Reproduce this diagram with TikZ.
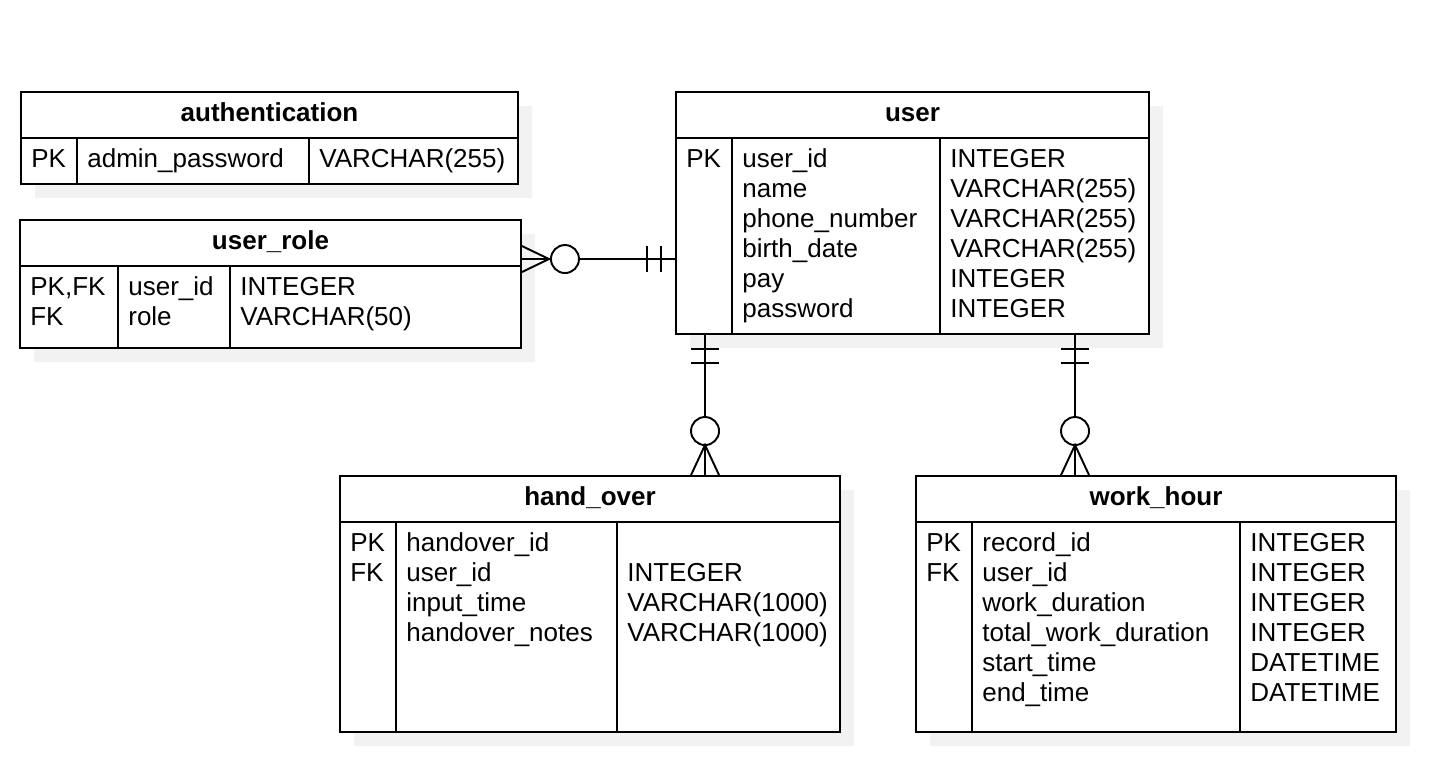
\documentclass[tikz,border=0pt]{standalone}
\usepackage{fontspec}
\setmainfont{Liberation Sans}
\usetikzlibrary{fit,calc}
\tikzset{
  tbl/.style={draw, fill=white, line width=1.1pt, inner sep=0pt},
  shade/.style={fill=black!5, draw=none},
  cell/.style={anchor=base west, inner sep=0pt, font=\fontsize{14.8}{17}\selectfont},
  ttl/.style={anchor=base, inner sep=0pt, font=\fontsize{14.8}{17}\selectfont\bfseries},
  rel/.style={line width=1.1pt},
  ring/.style={line width=1.1pt, fill=white},
}
\begin{document}
\begin{tikzpicture}[x=0.02cm, y=-0.02cm]
  \useasboundingbox (0,0) rectangle (1438,778);

  % shadows
  \fill[shade] (35,106) rectangle (532,198);
  \fill[shade] (34,234) rectangle (535,362);
  \fill[shade] (690,106) rectangle (1163,348);
  \fill[shade] (354,490) rectangle (854,746);
  \fill[shade] (930,490) rectangle (1410,746);

  % authentication
  \node[tbl, fit={(21,92) (518,184)}] (authentication) {};
  \draw[rel] (21,138) -- (518,138);
  \draw[rel] (77,138) -- (77,184);
  \draw[rel] (309,138) -- (309,184);
  \node[ttl] (auth-title) at (269.5,121) {authentication};
  \node[cell] (auth-k) at (31,167) {PK};
  \node[cell] (auth-n) at (87,167) {admin\_password};
  \node[cell] (auth-t) at (319,167) {VARCHAR(255)};

  % user_role
  \node[tbl, fit={(20,220) (521,348)}] (user_role) {};
  \draw[rel] (20,266) -- (521,266);
  \draw[rel] (118,266) -- (118,348);
  \draw[rel] (230,266) -- (230,348);
  \node[ttl] (role-title) at (270.5,249) {user\_role};
  \foreach \k/\n/\t [count=\i from 0] in {PK{,}FK/user\_id/INTEGER, FK/role/VARCHAR(50)} {
    \node[cell] (role-k\i) at (30,295+30*\i) {\k};
    \node[cell] (role-n\i) at (128,295+30*\i) {\n};
    \node[cell] (role-t\i) at (240,295+30*\i) {\t};
  }

  % user
  \node[tbl, fit={(676,92) (1149,334)}] (user) {};
  \draw[rel] (676,138) -- (1149,138);
  \draw[rel] (732,138) -- (732,334);
  \draw[rel] (940,138) -- (940,334);
  \node[ttl] (user-title) at (912.5,121) {user};
  \node[cell] (user-k0) at (686,167) {PK};
  \foreach \n/\t [count=\i from 0] in {user\_id/INTEGER, name/VARCHAR(255),
      phone\_number/VARCHAR(255), birth\_date/VARCHAR(255), pay/INTEGER, password/INTEGER} {
    \node[cell] (user-n\i) at (742,167+30*\i) {\n};
    \node[cell] (user-t\i) at (950,167+30*\i) {\t};
  }

  % hand_over
  \node[tbl, fit={(340,476) (840,732)}] (hand_over) {};
  \draw[rel] (340,522) -- (840,522);
  \draw[rel] (396,522) -- (396,732);
  \draw[rel] (617,522) -- (617,732);
  \node[ttl] (hand-title) at (590,505) {hand\_over};
  \node[cell] (hand-k0) at (350,551) {PK};
  \node[cell] (hand-k1) at (350,581) {FK};
  \node[cell] (hand-n0) at (406,551) {handover\_id};
  \foreach \n/\t [count=\i from 1] in {user\_id/INTEGER, input\_time/VARCHAR(1000),
      handover\_notes/VARCHAR(1000)} {
    \node[cell] (hand-n\i) at (406,551+30*\i) {\n};
    \node[cell] (hand-t\i) at (627,551+30*\i) {\t};
  }

  % work_hour
  \node[tbl, fit={(916,476) (1396,732)}] (work_hour) {};
  \draw[rel] (916,522) -- (1396,522);
  \draw[rel] (972,522) -- (972,732);
  \draw[rel] (1240,522) -- (1240,732);
  \node[ttl] (work-title) at (1156,505) {work\_hour};
  \node[cell] (work-k0) at (926,551) {PK};
  \node[cell] (work-k1) at (926,581) {FK};
  \foreach \n/\t [count=\i from 0] in {record\_id/INTEGER, user\_id/INTEGER,
      work\_duration/INTEGER, total\_work\_duration/INTEGER,
      start\_time/DATETIME, end\_time/DATETIME} {
    \node[cell] (work-n\i) at (982,551+30*\i) {\n};
    \node[cell] (work-t\i) at (1250,551+30*\i) {\t};
  }

  % user_role -- user
  \coordinate (ru-a) at ($(user_role.north east)+(0,40)$);
  \coordinate (ru-b) at ($(user.north west)+(0,168)$);
  \draw[rel] (ru-a) -- (ru-b);
  \draw[rel] ($(ru-a)+(0,-13)$) -- ($(ru-a)+(27,0)$) -- ($(ru-a)+(0,13)$);
  \draw[ring] ($(ru-a)+(43,0)$) circle[radius=14];
  \draw[rel] ($(ru-b)+(-28,-13)$) -- ++(0,26);
  \draw[rel] ($(ru-b)+(-14,-13)$) -- ++(0,26);

  % user -- hand_over
  \coordinate (uh-a) at ($(user.south west)+(30,0)$);
  \coordinate (uh-b) at ($(hand_over.north west)+(366,0)$);
  \draw[rel] (uh-a) -- (uh-b);
  \draw[rel] ($(uh-a)+(-14,14)$) -- ++(28,0);
  \draw[rel] ($(uh-a)+(-14,28)$) -- ++(28,0);
  \draw[ring] ($(uh-b)+(0,-44)$) circle[radius=14];
  \draw[rel] ($(uh-b)+(-14,0)$) -- ($(uh-b)+(0,-30)$) -- ($(uh-b)+(14,0)$);

  % user -- work_hour
  \coordinate (uw-a) at ($(user.south west)+(400,0)$);
  \coordinate (uw-b) at ($(work_hour.north west)+(160,0)$);
  \draw[rel] (uw-a) -- (uw-b);
  \draw[rel] ($(uw-a)+(-14,14)$) -- ++(28,0);
  \draw[rel] ($(uw-a)+(-14,28)$) -- ++(28,0);
  \draw[ring] ($(uw-b)+(0,-44)$) circle[radius=14];
  \draw[rel] ($(uw-b)+(-14,0)$) -- ($(uw-b)+(0,-30)$) -- ($(uw-b)+(14,0)$);
\end{tikzpicture}
\end{document}
